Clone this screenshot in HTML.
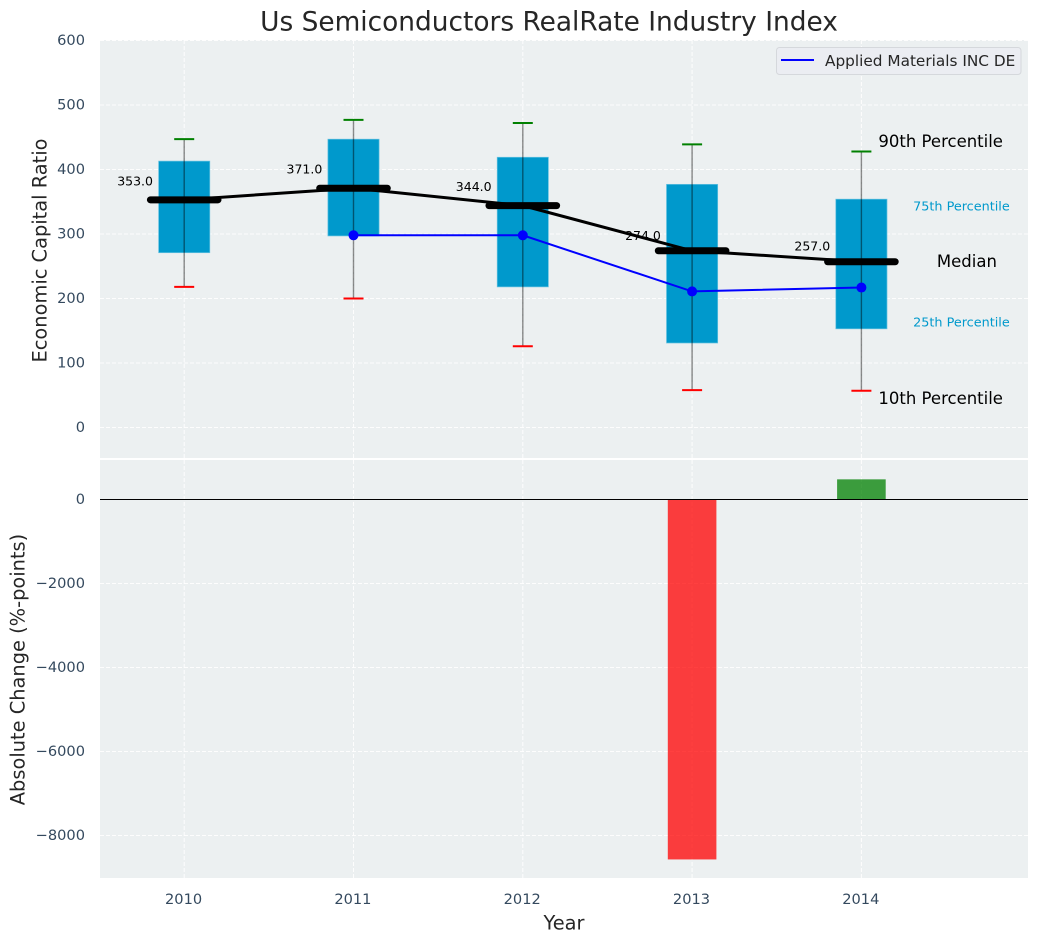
<!DOCTYPE html>
<html>
<head>
<meta charset="utf-8">
<title>Us Semiconductors RealRate Industry Index</title>
<style>
html,body{margin:0;padding:0;background:#fff;width:1039px;height:942px;overflow:hidden}
svg{display:block}
text{font-family:"DejaVu Sans","Liberation Sans",sans-serif}
</style>
</head>
<body>
<svg id="chart" xmlns="http://www.w3.org/2000/svg" width="1039" height="942" viewBox="0 0 1039 942"></svg>
<script>
const years = [2010, 2011, 2012, 2013, 2014];
const p90 = [447, 477, 472, 439, 428];
const p75 = [413, 447, 419, 377, 354];
const medians = [353, 371, 344, 274, 257];
const p25 = [271, 297, 218, 131, 153];
const p10 = [218, 200, 126, 58, 57];
const companyYears = [2011, 2012, 2013, 2014];
const companyValues = [298, 298, 211, 217];
const changeYears = [2013, 2014];
const changeValues = [-8570, 480];
const topTicks = [0, 100, 200, 300, 400, 500, 600];
const bottomTicks = [0, -2000, -4000, -6000, -8000];

const NS = 'http://www.w3.org/2000/svg';
const svg = document.getElementById('chart');
const xs = v => 184.2 + (v - 2010) * 169.3;
const yTop = v => 427.5 - v * 0.645;
const yBot = v => 499.5 - v * 0.042;

function mk(tag, attrs, parent, txt) {
  const el = document.createElementNS(NS, tag);
  for (const k in attrs) el.setAttribute(k, attrs[k]);
  if (txt !== undefined) el.textContent = txt;
  (parent || svg).appendChild(el);
  return el;
}
function label(x, y, txt, size, fill, anchor, extra) {
  return mk('text', Object.assign({x: x, y: y, 'font-size': size, fill: fill, 'text-anchor': anchor || 'start', 'dominant-baseline': 'central'}, extra || {}), svg, txt);
}
const tickColor = '#34495e';
const tickSize = 14.6;
const gridAttrs = {stroke: '#fff', 'stroke-width': 1, 'stroke-dasharray': '4 2', opacity: 0.9};

let el;
el = mk('rect', {x: 100, y: 40, width: 928, height: 418, fill: '#ecf0f1'});


el = mk('rect', {x: 100, y: 460, width: 928, height: 418, fill: '#ecf0f1'});



topTicks.forEach(t => {
  el = mk('line', Object.assign({x1: 100, x2: 1028, y1: yTop(t), y2: yTop(t)}, gridAttrs));
  
  
  el = label(85, yTop(t), String(t), tickSize, tickColor, 'end');
  
  
});
bottomTicks.forEach(t => {
  el = mk('line', Object.assign({x1: 100, x2: 1028, y1: yBot(t), y2: yBot(t)}, gridAttrs));
  
  
  el = label(85, yBot(t), String(t).replace('-', '\u2212'), tickSize, tickColor, 'end');
  
  
});
years.forEach(yr => {
  el = mk('line', Object.assign({x1: xs(yr), x2: xs(yr), y1: 40, y2: 458}, gridAttrs));
  
  
  el = mk('line', Object.assign({x1: xs(yr), x2: xs(yr), y1: 460, y2: 878}, gridAttrs));
  
  
  el = label(xs(yr) - 0.6, 899.5, String(yr), tickSize, tickColor, 'middle');
  
  
});

years.forEach((yr, i) => {
  const x = xs(yr);
  el = mk('rect', {x: x - 25.6, y: yTop(p75[i]), width: 51.2, height: yTop(p25[i]) - yTop(p75[i]), fill: '#0099cc', stroke: '#66c2e0', 'stroke-width': 0.7});
  
  
  el = mk('line', {x1: x, x2: x, y1: yTop(p90[i]), y2: yTop(p10[i]), stroke: '#000', 'stroke-opacity': 0.45, 'stroke-width': 1.4});
  
  
  el = mk('line', {x1: x - 10, x2: x + 10, y1: yTop(p90[i]), y2: yTop(p90[i]), stroke: 'green', 'stroke-width': 2});
  
  
  el = mk('line', {x1: x - 10, x2: x + 10, y1: yTop(p10[i]), y2: yTop(p10[i]), stroke: 'red', 'stroke-width': 2});
  
  
});

el = mk('polyline', {points: years.map((yr, i) => xs(yr) + ',' + yTop(medians[i])).join(' '), fill: 'none', stroke: '#000', 'stroke-width': 3});


years.forEach((yr, i) => {
  const x = xs(yr), y = yTop(medians[i]);
  el = mk('line', {x1: x - 33.8, x2: x + 33.8, y1: y, y2: y, stroke: '#000', 'stroke-width': 7, 'stroke-linecap': 'round'});
  
  
  el = label(x - 67, y - (medians[i] < 300 ? 15.5 : 19), medians[i].toFixed(1), 12.5, '#000');
  
  
});

el = mk('polyline', {points: companyYears.map((yr, i) => xs(yr) + ',' + yTop(companyValues[i])).join(' '), fill: 'none', stroke: '#0000ff', 'stroke-width': 2});


companyYears.forEach((yr, i) => {
  el = mk('circle', {cx: xs(yr), cy: yTop(companyValues[i]), r: 5, fill: '#0000ff'});
  
  
});

const last = years.length - 1;
const xEnd = xs(years[last]);
el = label(xEnd + 17, yTop(p90[last]) - 10, '90th Percentile', 16.5, '#000');


el = label(xEnd + 51.7, yTop(p75[last]) + 8, '75th Percentile', 12.8, '#0099cc');


el = label(xEnd + 75.5, yTop(medians[last]), 'Median', 16.5, '#000');


el = label(xEnd + 51.7, yTop(p25[last]) - 6, '25th Percentile', 12.8, '#0099cc');


el = label(xEnd + 17, yTop(p10[last]) + 8, '10th Percentile', 16.5, '#000');



changeYears.forEach((yr, i) => {
  const v = changeValues[i];
  el = mk('rect', {x: xs(yr) - 24.3, y: Math.min(yBot(v), yBot(0)), width: 48.6, height: Math.abs(yBot(v) - yBot(0)), fill: v < 0 ? '#ff0000' : '#008000', 'fill-opacity': 0.75});
  
  
});
el = mk('line', {x1: 100, x2: 1028, y1: yBot(0), y2: yBot(0), stroke: '#000', 'stroke-width': 1.1});



el = mk('rect', {x: 776.5, y: 47.5, width: 244.5, height: 27, rx: 3, fill: '#ebedf2', stroke: '#d5d8dc', 'stroke-width': 1});


el = mk('line', {x1: 781, x2: 814, y1: 60, y2: 60, stroke: '#0000ff', 'stroke-width': 2});


el = label(825, 61, 'Applied Materials INC DE', 15.3, '#262626');



el = label(549, 22, 'Us Semiconductors RealRate Industry Index', 26.4, '#262626', 'middle');


el = label(564, 923, 'Year', 19.4, '#262626', 'middle');


el = label(40, 250.5, 'Economic Capital Ratio', 19.4, '#262626', 'middle', {transform: 'rotate(-90 40 250.5)'});


el = label(18, 669.5, 'Absolute Change (%-points)', 19.4, '#262626', 'middle', {transform: 'rotate(-90 18 669.5)'});


</script>
</body>
</html>
